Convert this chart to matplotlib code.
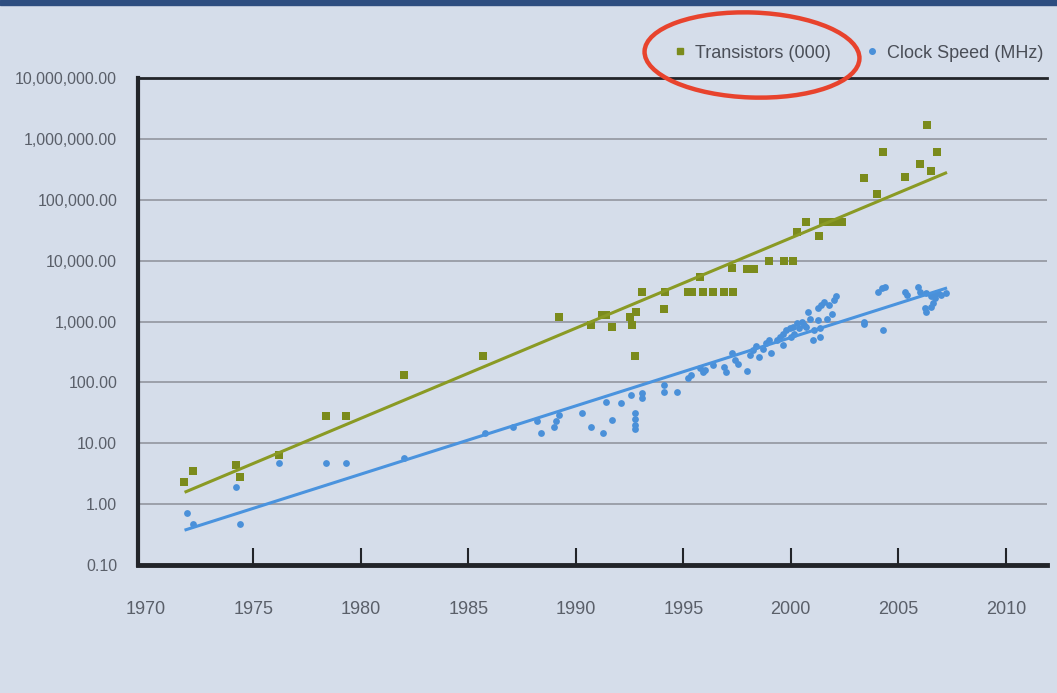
import matplotlib
matplotlib.use('Agg')
import matplotlib.pyplot as plt
from matplotlib.patches import Ellipse, Rectangle
from matplotlib.lines import Line2D
import numpy as np

# transistor counts (thousands)
transistor_years = [1971.8, 1972.2, 1974.2, 1974.4, 1976.2, 1978.4, 1979.3, 1982.0, 1985.7,
                    1989.2, 1990.7, 1991.2, 1991.4, 1991.7, 1992.5, 1992.6, 1992.75, 1992.8,
                    1993.1, 1994.1, 1994.15, 1995.2, 1995.4, 1995.8, 1995.9, 1996.4, 1996.9,
                    1997.25, 1997.3, 1997.95, 1998.3, 1999.0, 1999.7, 2000.1, 2000.3, 2000.7,
                    2001.3, 2001.5, 2001.8, 2002.1, 2002.4, 2003.4, 2004.0, 2004.3, 2005.3,
                    2006.0, 2006.35, 2006.5, 2006.8]
transistor_values = [2.3, 3.5, 4.4, 2.8, 6.4, 28, 28, 131, 273,
                     1190, 870, 1270, 1270, 820, 1190, 870, 273, 1450,
                     3080, 1600, 3080, 3080, 3080, 5400, 3080, 3080, 3080,
                     7600, 3080, 7400, 7400, 9800, 9800, 9800, 29500, 43000,
                     25000, 43000, 43000, 43000, 43000, 224000, 126000, 610000, 235000,
                     385000, 1720000, 296000, 600000]

# clock speed (MHz)
clock_years = [1971.9, 1972.2, 1974.2, 1974.4, 1976.2, 1978.4, 1979.3, 1982.0, 1985.8,
               1987.1, 1988.2, 1988.4, 1989.0, 1989.1, 1989.2, 1990.3, 1990.7, 1991.25,
               1991.4, 1991.7, 1992.1, 1992.55, 1992.75, 1992.75, 1992.75, 1992.75, 1993.1,
               1993.1, 1994.1, 1994.1, 1994.7, 1995.2, 1995.35, 1995.8, 1995.9, 1996.0,
               1996.4, 1996.9, 1997.0, 1997.25, 1997.4, 1997.55, 1997.95, 1998.1, 1998.25,
               1998.4, 1998.5, 1998.7, 1998.85, 1999.0, 1999.1, 1999.35, 1999.5, 1999.65,
               1999.65, 1999.8, 1999.95, 2000.0, 2000.1, 2000.15, 2000.3, 2000.4, 2000.5,
               2000.6, 2000.7, 2000.8, 2000.9, 2001.05, 2001.1, 2001.25, 2001.35, 2001.35,
               2001.25, 2001.4, 2001.55, 2001.7, 2001.8, 2001.9, 2002.0, 2002.1, 2003.4,
               2003.4, 2004.07, 2004.23, 2004.38, 2004.3, 2005.3, 2005.4, 2005.9, 2006.0,
               2006.25, 2006.3, 2006.3, 2006.5, 2006.5, 2006.6, 2006.6, 2006.7, 2006.85,
               2007.0, 2007.2]
clock_values = [0.71, 0.47, 1.93, 0.47, 4.8, 4.8, 4.8, 5.7, 15,
                18.7, 23.5, 14.8, 18.8, 23.5, 29, 31.6, 18.8, 14.8,
                48, 24, 46, 62, 31.6, 25, 20, 17, 66,
                55, 90, 70, 70, 116, 132, 170, 150, 160,
                190, 180, 150, 300, 233, 200, 155, 280, 340,
                390, 260, 360, 440, 500, 300, 500, 560, 630,
                410, 720, 770, 560, 820, 630, 940, 770, 1000,
                880, 820, 1450, 1100, 500, 720, 1050, 770, 560,
                1650, 1880, 2130, 1100, 1880, 1350, 2270, 2600, 990,
                900, 3100, 3500, 3700, 720, 3100, 2770, 3700, 3100,
                1650, 1450, 2900, 1750, 2600, 2770, 2000, 2400, 2900,
                2770, 2900]

# trend line end points
trend_years = [1971.87, 2007.2]
trend_transistors = [1.6, 275000]
trend_clock = [0.38, 3500]

year_ticks = [1970, 1975, 1980, 1985, 1990, 1995, 2000, 2005, 2010]
value_ticks = [0.1, 1, 10, 100, 1000, 10000, 100000, 1000000, 10000000]

green = '#7b8b1c'
blue = '#4a90d9'
bg = '#d5ddea'
text_col = '#5a5f69'

plt.rcParams['font.family'] = ['Liberation Sans', 'DejaVu Sans']

fig = plt.figure(figsize=(10.57, 6.93), dpi=100, facecolor=bg)
ax = fig.add_axes([0.1306, 0.1847, 0.8600, 0.7027])
ax.set_facecolor(bg)

ax.set_yscale('log')
ax.set_ylim(0.1, 10000000)
ax.set_xlim(1969.64, 2011.92)

ax.scatter(transistor_years, transistor_values, marker='s', s=26, color=green,
           linewidths=0, zorder=2)
ax.scatter(clock_years, clock_values, marker='o', s=24, color=blue,
           linewidths=0, zorder=2)
ax.plot(trend_years, trend_transistors, color='#8a9a24', linewidth=2.2, zorder=3)
ax.plot(trend_years, trend_clock, color='#4a93de', linewidth=2.2, zorder=3)

ax.set_yticks(value_ticks)
ax.set_yticklabels(['{:,.2f}'.format(v) for v in value_ticks])
ax.yaxis.set_minor_locator(matplotlib.ticker.NullLocator())
ax.tick_params(axis='y', length=0, pad=15, labelsize=11.5, labelcolor=text_col)
ax.grid(axis='y', color='#8c9099', linewidth=1.1)
ax.set_axisbelow(True)

ax.set_xticks(year_ticks)
ax.set_xticklabels([str(y) for y in year_ticks])
ax.tick_params(axis='x', direction='in', length=12, width=1.5, color='#222429',
               pad=26, labelsize=13, labelcolor=text_col)
ax.xaxis.get_major_ticks()[0].tick1line.set_visible(False)

ax.spines['right'].set_visible(False)
ax.spines['left'].set_linewidth(3)
ax.spines['bottom'].set_linewidth(3.5)
ax.spines['top'].set_linewidth(2)
for s in ['left', 'bottom', 'top']:
    ax.spines[s].set_color('#222429')

handles = [Line2D([], [], marker='s', linestyle='none', color=green, markersize=4.5),
           Line2D([], [], marker='o', linestyle='none', color=blue, markersize=4)]
fig.legend(handles, ['Transistors (000)', 'Clock Speed (MHz)'], ncol=2,
           loc='center right', bbox_to_anchor=(0.9953, 0.9235), frameon=False,
           fontsize=13, labelcolor='#4a4e57', handlelength=0.6, handletextpad=0.5,
           columnspacing=2.0, borderpad=0)

# dark band at top of the page
fig.patches.append(Rectangle((0, 6.88), 10.57, 0.05, transform=fig.dpi_scale_trans,
                             color='#2d4d80', zorder=0))

# red highlight ellipse around the legend entry
fig.patches.append(Ellipse((7.52, 6.38), 2.15, 0.85, angle=-2,
                           transform=fig.dpi_scale_trans, fill=False,
                           edgecolor='#e8432d', linewidth=3.2, zorder=5))

fig.savefig('out.png', dpi=100, facecolor=bg)
